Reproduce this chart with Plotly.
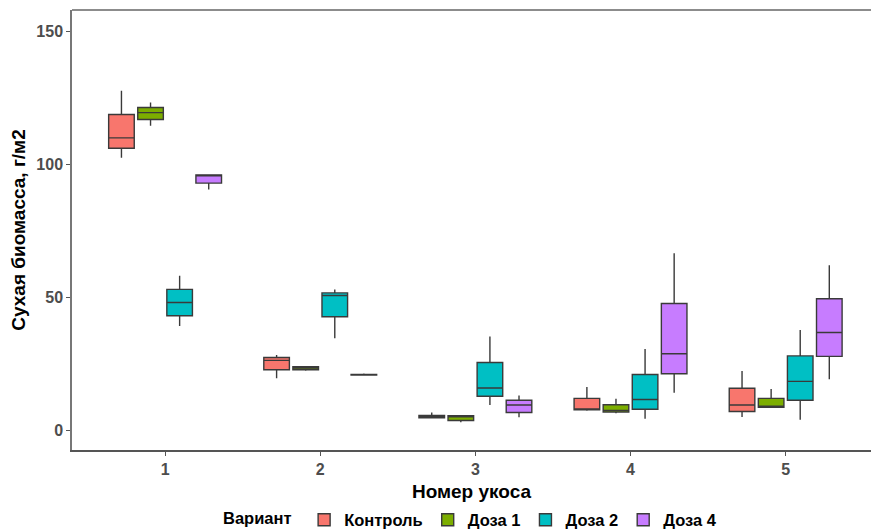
import plotly.graph_objects as go

CUTS = [1, 2, 3, 4, 5]
VARIANTS = ["Контроль", "Доза 1", "Доза 2", "Доза 4"]
COLORS = ["#F8766D", "#7CAE00", "#00BFC4", "#C77CFF"]

# per variant (rows) and cut (columns)
LOWER = [
    [102.4, 19.5, 4.6, 7.3, 4.9],
    [114.5, 22.3, 2.9, 6.3, 8.6],
    [39.1, 34.5, 9.4, 4.3, 3.9],
    [90.5, 20.7, 4.8, 14.0, 19.1],
]
Q1 = [
    [106.0, 22.7, 4.6, 7.6, 7.0],
    [116.8, 22.7, 3.6, 6.8, 8.6],
    [43.0, 42.6, 12.7, 7.8, 11.2],
    [92.9, 20.7, 6.6, 21.2, 27.7],
]
MEDIAN = [
    [109.9, 26.2, 4.9, 7.9, 9.4],
    [119.4, 23.3, 5.1, 7.4, 8.9],
    [48.0, 50.6, 15.8, 11.5, 18.3],
    [95.7, 20.8, 9.4, 28.7, 36.7],
]
Q3 = [
    [118.7, 27.3, 5.5, 11.9, 15.7],
    [121.3, 23.8, 5.4, 9.5, 11.9],
    [52.9, 51.6, 25.4, 20.9, 27.9],
    [96.0, 20.9, 11.2, 47.6, 49.4],
]
UPPER = [
    [127.6, 28.2, 6.6, 16.2, 22.2],
    [123.2, 24.1, 5.4, 11.8, 15.4],
    [58.0, 52.9, 35.2, 30.5, 37.6],
    [96.0, 21.3, 13.0, 66.5, 62.0],
]
Y_TICKS = [0, 50, 100, 150]

FONT = "Liberation Sans, Arial, sans-serif"

fig = go.Figure()
for i, name in enumerate(VARIANTS):
    fig.add_trace(go.Box(
        name=name,
        x=CUTS,
        lowerfence=LOWER[i],
        q1=Q1[i],
        median=MEDIAN[i],
        q3=Q3[i],
        upperfence=UPPER[i],
        fillcolor=COLORS[i],
        line=dict(color="#3a3a3a", width=1.4),
        whiskerwidth=0,
        boxpoints=False,
    ))

fig.update_layout(
    width=871, height=529,
    boxmode="group", boxgap=0.25, boxgroupgap=0.12,
    paper_bgcolor="white", plot_bgcolor="white",
    margin=dict(l=72, r=0, t=10, b=79, autoexpand=False),
    font=dict(family=FONT, color="black"),
    showlegend=True,
    legend=dict(
        orientation="h", x=0.5, xanchor="center", y=-0.159, yanchor="middle",
        font=dict(size=16.5, weight="bold", color="black"),
        title=dict(text="Вариант ", font=dict(size=16.5, weight="bold", color="black"), side="left"),
        itemwidth=30, tracegroupgap=0,
    ),
    shapes=[dict(type="line", xref="paper", yref="paper", x0=0, x1=1, y0=1, y1=1,
                 line=dict(color="#666666", width=1.5))],
)
fig.update_xaxes(
    range=[0.4, 5.55], tickvals=CUTS, ticktext=[str(c) for c in CUTS],
    showgrid=False, zeroline=False, automargin=False,
    showline=True, linecolor="#555555", linewidth=1.5,
    ticks="outside", ticklen=4, tickcolor="#555555",
    tickfont=dict(size=16, weight="bold", color="#4D4D4D"),
    title=dict(text="Номер укоса", font=dict(size=19, weight="bold", color="black"), standoff=8),
)
fig.update_yaxes(
    range=[-7.5, 158], tickvals=Y_TICKS, ticktext=[str(t) for t in Y_TICKS],
    showgrid=False, zeroline=False, automargin=False,
    showline=True, linecolor="#777777", linewidth=1.5,
    ticks="outside", ticklen=4, tickcolor="#555555",
    tickfont=dict(size=16, weight="bold", color="#4D4D4D"),
    title=dict(text="Сухая биомасса, г/м2", font=dict(size=19, weight="bold", color="black"), standoff=6),
)

fig.write_html(
    "out.html",
    config={"displayModeBar": False},
    post_script="document.body.style.margin='0';document.body.style.overflow='hidden';",
)
